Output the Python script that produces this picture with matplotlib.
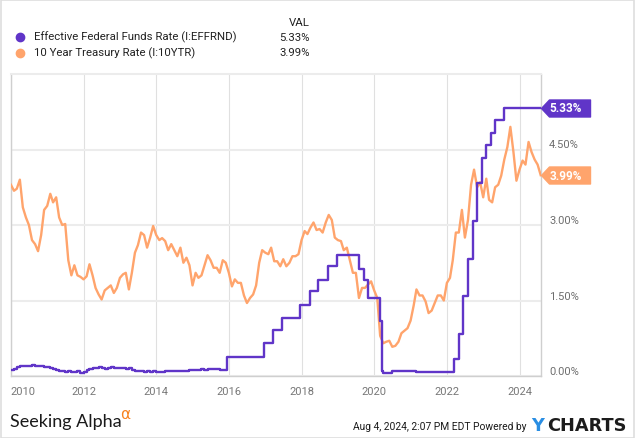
#!/usr/bin/env python3
"""Effective Fed Funds Rate vs 10 Year Treasury Rate, drawn in the YCharts style."""
import matplotlib
matplotlib.use("Agg")
import matplotlib.pyplot as plt
from matplotlib.lines import Line2D
from matplotlib.patches import Rectangle
import pandas as pd

W, H = 635, 439
DPI = 100

# 10 Year Treasury rate, monthly, Jan 2010 - Aug 2024 (%)
ten_year = [
    3.80, 3.68, 3.72, 3.90, 3.35, 3.15, 3.00, 2.70, 2.62, 2.48, 2.80, 3.30,  # 2010
    3.38, 3.62, 3.45, 3.55, 3.15, 3.00, 3.02, 2.30, 2.00, 2.20, 2.00, 1.97,  # 2011
    1.92, 1.98, 2.22, 2.00, 1.75, 1.62, 1.52, 1.70, 1.75, 1.80, 1.65, 1.75,  # 2012
    1.95, 2.02, 2.05, 1.72, 2.05, 2.45, 2.60, 2.85, 2.80, 2.55, 2.75, 2.98,  # 2013
    2.80, 2.70, 2.74, 2.68, 2.50, 2.62, 2.50, 2.38, 2.55, 2.25, 2.35, 2.20,  # 2014
    1.80, 2.05, 1.95, 2.00, 2.20, 2.40, 2.30, 2.15, 2.15, 2.05, 2.30, 2.25,  # 2015
    2.05, 1.78, 1.92, 1.85, 1.85, 1.60, 1.45, 1.55, 1.62, 1.80, 2.25, 2.50,  # 2016
    2.45, 2.42, 2.55, 2.28, 2.28, 2.18, 2.32, 2.18, 2.25, 2.38, 2.38, 2.42,  # 2017
    2.70, 2.88, 2.82, 2.95, 3.05, 2.90, 2.92, 2.85, 3.05, 3.20, 3.10, 2.75,  # 2018
    2.70, 2.68, 2.50, 2.55, 2.30, 2.05, 2.05, 1.55, 1.75, 1.75, 1.82, 1.88,  # 2019
    1.70, 1.55, 0.80, 0.65, 0.68, 0.70, 0.58, 0.60, 0.68, 0.85, 0.90, 0.95,  # 2020
    1.10, 1.40, 1.72, 1.60, 1.60, 1.48, 1.25, 1.30, 1.45, 1.60, 1.60, 1.50,  # 2021
    1.85, 1.95, 2.30, 2.85, 2.85, 3.30, 2.75, 3.10, 3.80, 4.10, 3.75, 3.85,  # 2022
    3.55, 3.92, 3.50, 3.45, 3.75, 3.80, 3.98, 4.30, 4.55, 4.95, 4.45, 3.88,  # 2023
    4.10, 4.28, 4.20, 4.65, 4.45, 4.30, 4.20, 3.99,                          # 2024
]

# Effective Fed Funds rate, monthly Jan 2010 - Nov 2015 (%)
effr_monthly = [
    0.11, 0.13, 0.17, 0.20, 0.20, 0.19, 0.20, 0.21, 0.20, 0.19, 0.20, 0.18,
    0.17, 0.16, 0.14, 0.11, 0.10, 0.09, 0.08, 0.10, 0.08, 0.07, 0.09, 0.06,
    0.08, 0.11, 0.14, 0.15, 0.16, 0.17, 0.16, 0.14, 0.15, 0.17, 0.16, 0.15,
    0.15, 0.16, 0.14, 0.15, 0.11, 0.10, 0.09, 0.09, 0.08, 0.09, 0.08, 0.09,
    0.07, 0.07, 0.08, 0.09, 0.09, 0.10, 0.09, 0.09, 0.09, 0.09, 0.09, 0.12,
    0.11, 0.11, 0.12, 0.13, 0.12, 0.13, 0.13, 0.14, 0.14, 0.12, 0.12,
]
# then the level after each change (%)
effr_change_dates = [
    "2015-12-17", "2016-12-15", "2017-03-16", "2017-06-15", "2017-12-14",
    "2018-03-22", "2018-06-14", "2018-09-27", "2018-12-20", "2019-08-01",
    "2019-09-19", "2019-10-31", "2020-03-04", "2020-03-16", "2020-04-01",
    "2020-07-01", "2021-03-01", "2021-06-17", "2022-03-17", "2022-05-05",
    "2022-06-16", "2022-07-28", "2022-09-22", "2022-11-03", "2022-12-15",
    "2023-02-02", "2023-03-23", "2023-05-04", "2023-07-27", "2024-08-01",
]
effr_change_values = [
    0.37, 0.66, 0.91, 1.16, 1.42,
    1.68, 1.91, 2.18, 2.40, 2.13,
    1.90, 1.55, 1.10, 0.10, 0.05,
    0.09, 0.07, 0.08, 0.33, 0.83,
    1.58, 2.33, 3.08, 3.83, 4.33,
    4.58, 4.83, 5.08, 5.33, 5.33,
]

series_names = ["Effective Federal Funds Rate (I:EFFRND)", "10 Year Treasury Rate (I:10YTR)"]
series_colors = ["#6035c8", "#ffa46c"]
y_ticks = [0.0, 1.5, 3.0, 4.5]
x_years = list(range(2010, 2025, 2))


def fx(px):
    return px / W


def fy(py):
    return 1 - py / H


def main():
    plt.rcParams["font.family"] = ["Roboto", "DejaVu Sans"]
    fig = plt.figure(figsize=(W / DPI, H / DPI), dpi=DPI)
    fig.patches.append(Rectangle((0.001, 0.001), 0.997, 0.997, transform=fig.transFigure,
                                 fill=False, edgecolor="#dedede", linewidth=1.2))

    left, right, top, bottom = 10.9, 540.7, 75.0, 377.0
    ax = fig.add_axes([fx(left), fy(bottom), fx(right - left), (bottom - top) / H])

    ty_dates = pd.date_range("2010-01-01", periods=len(ten_year), freq="MS")
    ef_dates = list(pd.date_range("2010-01-01", periods=len(effr_monthly), freq="MS"))
    ef_dates += [pd.Timestamp(d) for d in effr_change_dates]
    ef_values = effr_monthly + effr_change_values

    ax.plot(ty_dates, ten_year, color=series_colors[1], lw=1.7, zorder=3, solid_joinstyle="round")
    ax.plot(ef_dates, ef_values, color=series_colors[0], lw=1.7, zorder=4, drawstyle="steps-post")

    ax.set_xlim(pd.Timestamp("2010-01-01"), pd.Timestamp("2024-08-01"))
    ax.set_ylim(0, 6)

    # grid
    ax.set_yticks(y_ticks)
    ax.set_yticklabels([f"{v:.2f}%" for v in y_ticks])
    ax.set_xticks([pd.Timestamp(f"{y}-01-01") for y in x_years])
    ax.set_xticklabels([str(y) for y in x_years])
    ax.grid(axis="y", color="#ececec", lw=1.5, zorder=0)
    ax.grid(axis="x", color="#e0e0e0", lw=0.8, zorder=0)
    ax.yaxis.tick_right()
    ax.tick_params(axis="y", length=0, pad=6, labelsize=8, labelcolor="#6e6e6e")
    ax.tick_params(axis="x", length=0, pad=7, labelsize=8, labelcolor="#777777")
    for lbl in ax.get_yticklabels():
        lbl.set_va("bottom")
    ax.get_xticklabels()[0].set_ha("left")
    for side in ["left", "right", "bottom"]:
        ax.spines[side].set_color("#cfcfcf")
        ax.spines[side].set_linewidth(1.0)
    ax.spines["top"].set_color("#ececec")
    ax.spines["top"].set_linewidth(1.5)

    # value tags at the right edge
    tag_w, tag_h, tip = 49, 17, 8
    verts = [(0, 0), (tip, tag_h / 2), (tag_w, tag_h / 2), (tag_w, -tag_h / 2), (tip, -tag_h / 2), (0, 0)]
    last_vals = [ef_values[-1], ten_year[-1]]
    last_dates = [ef_dates[-1], ty_dates[-1]]
    for d, v, c in zip(last_dates, last_vals, series_colors):
        ax.plot([d], [v], linestyle="none", marker=verts, ms=2 * tag_w * 72 / DPI,
                color=c, mec=c, clip_on=False, zorder=6)
        ax.annotate(f"{v:.2f}%", xy=(d, v), xytext=(25, 0), textcoords="offset pixels",
                    ha="center", va="center", color="white", fontsize=8.5,
                    fontweight="bold", annotation_clip=False, zorder=7)

    # legend block
    fig.text(fx(310), fy(23.3), "VAL", ha="right", va="center", fontsize=8.2, color="#222222")
    for i, (name, c, v) in enumerate(zip(series_names, series_colors, last_vals)):
        yy = fy(37.7 + i * 15.8)
        fig.add_artist(Line2D([fx(20)], [yy], marker="o", ms=6, color=c, mec=c,
                              transform=fig.transFigure))
        fig.text(fx(34), yy, name, ha="left", va="center", fontsize=8.2, color="#222222")
        fig.text(fx(310), yy, f"{v:.2f}%", ha="right", va="center", fontsize=8.2, color="#222222")

    # footer
    fig.text(fx(10), fy(426.7), "Seeking Alpha", ha="left", va="baseline",
             fontsize=13, color="#1a1a1a", family=["Lato", "DejaVu Sans"])
    fig.text(fx(120), fy(414.5), "\u03b1", ha="left", va="center", fontsize=11,
             color="#f7821f", family=["DejaVu Sans"])
    fig.text(fx(526.7), fy(430), "Aug 4, 2024, 2:07 PM EDT Powered by", ha="right",
             va="baseline", fontsize=7.4, color="#1a1a1a")
    fig.text(fx(531.5), fy(431), "Y", ha="left", va="baseline", fontsize=12.8,
             fontweight="bold", color="#2a8ee3", family=["DejaVu Sans"])
    fig.text(fx(626.7), fy(431), "CHARTS", ha="right", va="baseline", fontsize=12.8,
             fontweight="bold", color="#1c1c1c", family=["DejaVu Sans"])

    fig.savefig("out.png", dpi=DPI)
    plt.close(fig)


if __name__ == "__main__":
    main()
